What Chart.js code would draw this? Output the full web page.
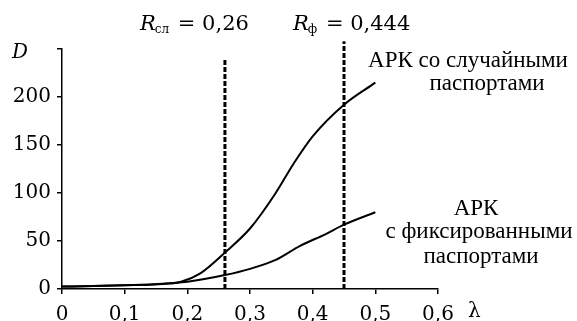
<!DOCTYPE html>
<html>
<head>
<meta charset="utf-8">
<script src="https://cdn.jsdelivr.net/npm/chart.js@4/dist/chart.umd.min.js"></script>
<style>
  html, body { margin: 0; padding: 0; background: #fff; }
  #wrap { width: 577px; height: 321px; }
</style>
</head>
<body>
<div id="wrap"><canvas id="graph" width="577" height="321"></canvas></div>
<script>
// lambda values and D values
var lambdaRandom = [0, 0.05, 0.1, 0.15, 0.19, 0.22, 0.26, 0.3, 0.34, 0.37, 0.4, 0.45, 0.5];
var dRandom = [2.5, 3.2, 4, 5, 7.5, 16, 38, 63, 99, 131, 159, 192, 215];
var lambdaFixed = [0, 0.05, 0.1, 0.15, 0.2, 0.26, 0.3, 0.34, 0.38, 0.42, 0.45, 0.5];
var dFixed = [2.5, 3.2, 4, 5, 7.5, 14.5, 21, 30, 45, 57, 67, 80];

// vertical markers: R_sl and R_f
var markerX = [0.26, 0.45];
var markerTop = [240, 258];

var xTicks = [0, 0.1, 0.2, 0.3, 0.4, 0.5, 0.6];
var yMax = 250;

var serif = "'DejaVu Serif', serif";
var times = "'Liberation Serif', 'Times New Roman', serif";

function pts(xs, ys) {
    return xs.map(function(x, i) { return { x: x, y: ys[i] }; });
}

function markerData(i) {
    return [{ x: markerX[i], y: 0 }, { x: markerX[i], y: markerTop[i] }];
}

var curveStyle = {
    borderColor: "#000",
    borderWidth: 2,
    pointRadius: 0,
    fill: false,
    showLine: true,
    cubicInterpolationMode: "monotone"
};

var markerStyle = {
    borderColor: "#000",
    borderWidth: 3,
    borderDash: [5, 2],
    pointRadius: 0,
    fill: false,
    showLine: true,
    clip: false
};

var textPlugin = {
    id: "texts",
    afterDraw: function(chart) {
        var ctx = chart.ctx;
        ctx.save();
        ctx.fillStyle = "#000";
        ctx.textBaseline = "alphabetic";

        // axis names
        ctx.font = "italic 20px " + serif;
        ctx.textAlign = "left";
        ctx.fillText("D", 12, 58);
        ctx.font = "20px " + serif;
        ctx.fillText("λ", 468, 317);

        // top labels
        function rLabel(x, sub, rest) {
            ctx.textAlign = "left";
            ctx.font = "italic 21px " + serif;
            ctx.fillText("R", x, 30);
            x += ctx.measureText("R").width;
            ctx.font = "12px " + serif;
            ctx.fillText(sub, x - 1, 33);
            x += ctx.measureText(sub).width;
            ctx.font = "21px " + serif;
            ctx.fillText(rest, x + 1, 30);
        }
        rLabel(140, "сл", " = 0,26");
        rLabel(293, "ф", " = 0,444");

        // curve captions
        ctx.font = "23px " + times;
        ctx.textAlign = "center";
        ctx.fillText("АРК со случайными", 468, 67);
        ctx.fillText("паспортами", 487, 90);
        ctx.fillText("АРК", 476, 215);
        ctx.fillText("с фиксированными", 479, 238);
        ctx.fillText("паспортами", 481, 263);
        ctx.restore();
    }
};

var chart = new Chart(document.getElementById("graph").getContext("2d"), {
    type: "scatter",
    data: {
        datasets: [
            Object.assign({ label: "random", data: pts(lambdaRandom, dRandom) }, curveStyle),
            Object.assign({ label: "fixed", data: pts(lambdaFixed, dFixed) }, curveStyle),
            Object.assign({ label: "Rsl", data: markerData(0) }, markerStyle),
            Object.assign({ label: "Rf", data: markerData(1) }, markerStyle)
        ]
    },
    options: {
        responsive: false,
        animation: false,
        layout: { padding: { left: 0, right: 139, top: 49, bottom: 0 } },
        plugins: {
            legend: { display: false },
            tooltip: { enabled: false }
        },
        scales: {
            x: {
                type: "linear",
                min: 0,
                max: 0.6,
                afterFit: function(s) { s.height = 32; },
                afterBuildTicks: function(s) {
                    s.ticks = xTicks.map(function(v) { return { value: v }; });
                },
                grid: { drawOnChartArea: false, drawTicks: true, tickLength: 5, color: "#000", lineWidth: 1.5 },
                border: { color: "#000", width: 1.5 },
                ticks: {
                    color: "#000",
                    padding: 9,
                    maxRotation: 0,
                    font: { family: serif, size: 20 },
                    callback: function(v) {
                        return v === 0 ? "0" : v.toFixed(1).replace(".", ",");
                    }
                }
            },
            y: {
                min: 0,
                max: yMax,
                afterFit: function(s) { s.width = 62; },
                grid: { drawOnChartArea: false, drawTicks: true, tickLength: 5, color: "#000", lineWidth: 1.5 },
                border: { color: "#000", width: 1.5 },
                ticks: {
                    color: "#000",
                    stepSize: 50,
                    padding: 6,
                    font: { family: serif, size: 20 },
                    callback: function(v) { return v === yMax ? "" : String(v); }
                }
            }
        }
    },
    plugins: [textPlugin]
});
</script>
</body>
</html>
